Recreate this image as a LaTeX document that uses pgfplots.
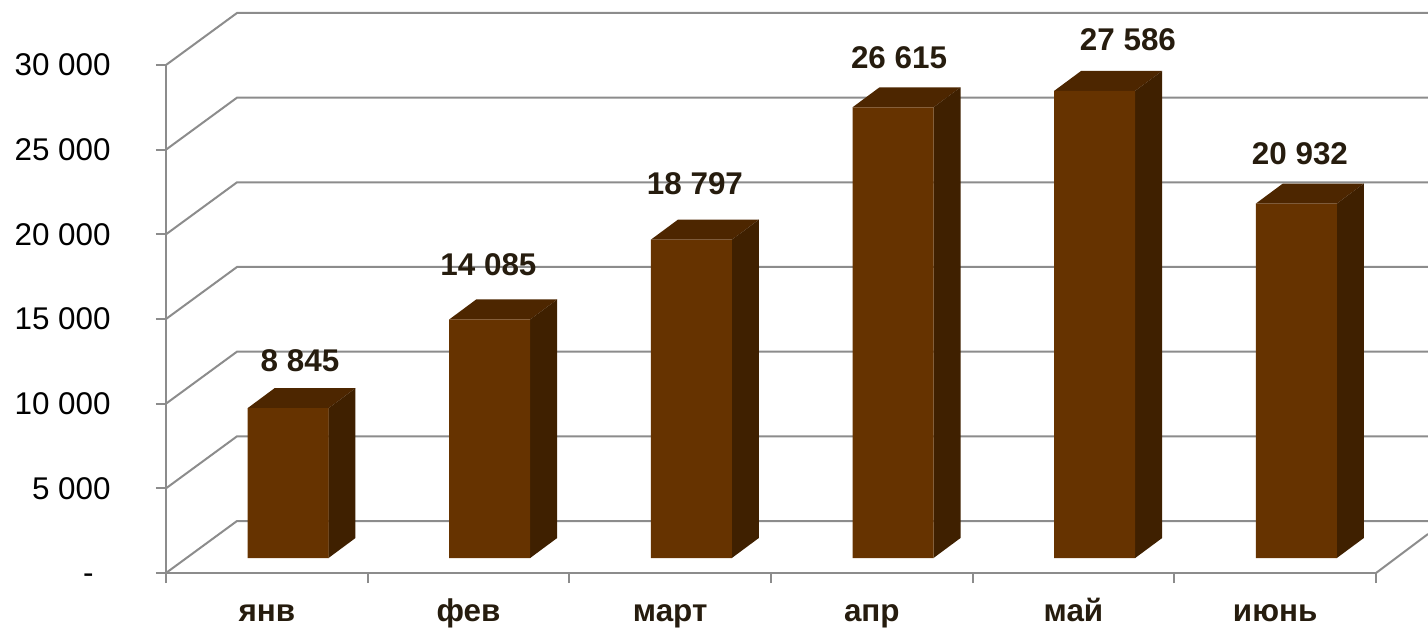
\documentclass[border=0pt]{standalone}
\usepackage{fontspec}
\setmainfont{Liberation Sans}
\usepackage{pgfplots}
\pgfplotsset{compat=1.18}
\definecolor{barfront}{HTML}{663300}
\definecolor{bartop}{HTML}{4D2600}
\definecolor{barside}{HTML}{3F2000}
\definecolor{gridgrey}{HTML}{8C8C8C}
\definecolor{labeltxt}{HTML}{261C0E}
\begin{document}
\begin{tikzpicture}
\begin{axis}[
  scale only axis,width=605pt,height=254pt,
  xmin=0,xmax=6,ymin=0,ymax=30000,
  clip=false,
  scaled y ticks=false,
  axis x line*=bottom,axis y line*=left,
  axis line style={gridgrey,line width=1.2pt,-},
  tick style={gridgrey,line width=1pt},
  tick align=outside,major tick length=5pt,
  x tick label as interval,
  xtick={0,1,2,3,4,5,6},
  xticklabels={янв,фев,март,апр,май,июнь},
  ytick={0,5000,10000,15000,20000,25000,30000},
  yticklabels={\vphantom{0}-\rule{8.5pt}{0pt},5 000,10 000,15 000,20 000,25 000,30 000},
  yticklabel style={font=\fontsize{15.7}{18}\selectfont,text=black,anchor=east,inner sep=0pt,xshift=-22.5pt},
  xticklabel style={font=\fontsize{15.7}{18}\selectfont\bfseries,text=labeltxt,anchor=base,inner sep=0pt,yshift=-19pt},
  wall/.style={gridgrey,line width=1pt},
  front3d/.style={yshift=7.5pt},
]
% walls
\addplot[wall] coordinates {(0,0)(.352,3071)(6,3071)(6.2579,3071)};
\addplot[wall] coordinates {(0,5000)(.352,8071)(6.2579,8071)};
\addplot[wall] coordinates {(0,10000)(.352,13071)(6.2579,13071)};
\addplot[wall] coordinates {(0,15000)(.352,18071)(6.2579,18071)};
\addplot[wall] coordinates {(0,20000)(.352,23071)(6.2579,23071)};
\addplot[wall] coordinates {(0,25000)(.352,28071)(6.2579,28071)};
\addplot[wall] coordinates {(0,30000)(.352,33071)(6.2579,33071)};
\addplot[wall] coordinates {(6,0)(6.2579,2303)};
% bar tops
\addplot[front3d,fill=bartop,draw=none] coordinates {(.4042,8845)(.5381,10026)(.9397,10026)(.8058,8845)} --cycle;
\addplot[front3d,fill=bartop,draw=none] coordinates {(1.4042,14085)(1.5381,15266)(1.9397,15266)(1.8058,14085)} --cycle;
\addplot[front3d,fill=bartop,draw=none] coordinates {(2.4042,18797)(2.5381,19978)(2.9397,19978)(2.8058,18797)} --cycle;
\addplot[front3d,fill=bartop,draw=none] coordinates {(3.4042,26615)(3.5381,27796)(3.9397,27796)(3.8058,26615)} --cycle;
\addplot[front3d,fill=bartop,draw=none] coordinates {(4.4042,27586)(4.5381,28767)(4.9397,28767)(4.8058,27586)} --cycle;
\addplot[front3d,fill=bartop,draw=none] coordinates {(5.4042,20932)(5.5381,22113)(5.9397,22113)(5.8058,20932)} --cycle;
% bar sides
\addplot[front3d,fill=barside,draw=none] coordinates {(.8058,0)(.9397,1181)(.9397,10026)(.8058,8845)} --cycle;
\addplot[front3d,fill=barside,draw=none] coordinates {(1.8058,0)(1.9397,1181)(1.9397,15266)(1.8058,14085)} --cycle;
\addplot[front3d,fill=barside,draw=none] coordinates {(2.8058,0)(2.9397,1181)(2.9397,19978)(2.8058,18797)} --cycle;
\addplot[front3d,fill=barside,draw=none] coordinates {(3.8058,0)(3.9397,1181)(3.9397,27796)(3.8058,26615)} --cycle;
\addplot[front3d,fill=barside,draw=none] coordinates {(4.8058,0)(4.9397,1181)(4.9397,28767)(4.8058,27586)} --cycle;
\addplot[front3d,fill=barside,draw=none] coordinates {(5.8058,0)(5.9397,1181)(5.9397,22113)(5.8058,20932)} --cycle;
% bar fronts
\addplot[front3d,ybar,bar width=40.5pt,bar shift=0pt,fill=barfront,draw=none]
  coordinates {(.605,8845)(1.605,14085)(2.605,18797)(3.605,26615)(4.605,27586)(5.605,20932)};
% value labels, placed by hand as in the original
\addplot[only marks,mark=none,point meta=explicit symbolic,
  nodes near coords,
  every node near coord/.style={anchor=center,inner sep=0pt,text=labeltxt,font=\fontsize{15.7}{18}\selectfont\bfseries}]
  coordinates {(.6645,12520)[8 845] (1.599,18189)[14 085] (2.623,22972)[18 797]
               (3.635,30413)[26 615] (4.770,31476)[27 586] (5.623,24744)[20 932]};
\coordinate (bbsw) at (axis cs:-.8231,-3189);
\coordinate (bbne) at (axis cs:6.2579,33839);
\end{axis}
\pgfresetboundingbox
\path[use as bounding box] (bbsw) rectangle (bbne);
\end{tikzpicture}
\end{document}
